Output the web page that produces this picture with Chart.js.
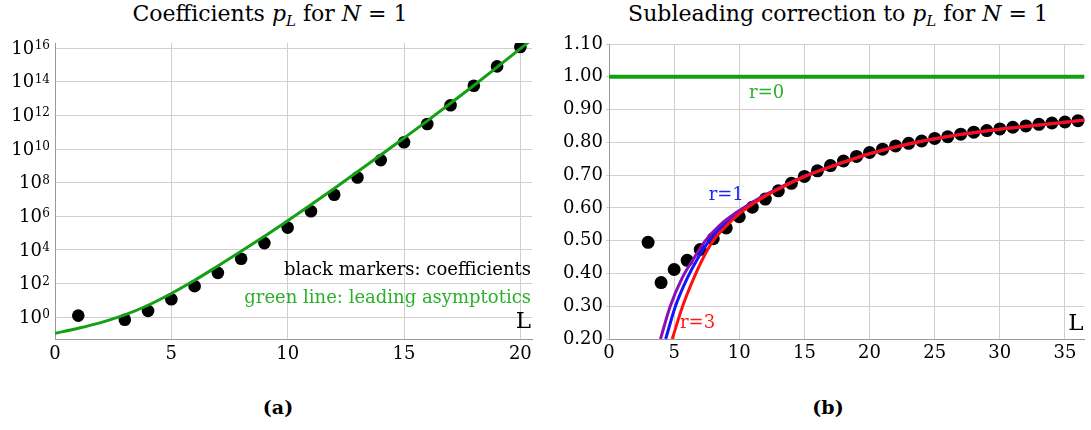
<!DOCTYPE html>
<html>
<head>
<meta charset="utf-8">
<script src="https://cdn.jsdelivr.net/npm/chart.js@4.4.0/dist/chart.umd.min.js"></script>
<style>
  body { margin: 0; width: 1091px; height: 430px; overflow: hidden; background: #fff; position: relative; font-family: "DejaVu Serif", serif; color: #000; }
  .title { position: absolute; top: 1px; font-size: 22px; white-space: nowrap; transform: translateX(-50%); }
  .title sub { font-size: 15px; vertical-align: -5px; line-height: 0; }
  .cap { position: absolute; top: 396px; font-size: 19px; font-weight: bold; transform: translateX(-50%); }
  canvas { position: absolute; top: 0; }
</style>
</head>
<body>
<div class="title" style="left:270px">Coefficients <i>p</i><sub><i>L</i></sub> for <i>N</i> = 1</div>
<div class="title" style="left:838px">Subleading correction to <i>p</i><sub><i>L</i></sub> for <i>N</i> = 1</div>
<div class="cap" style="left:278px">(a)</div>
<div class="cap" style="left:828px">(b)</div>
<canvas id="left" width="545" height="370" style="left:0"></canvas>
<canvas id="right" width="546" height="370" style="left:545px"></canvas>
<script>
// panel (a): coefficients p_L (no value at L=2)
const markL = [1, 3, 4, 5, 6, 7, 8, 9, 10, 11, 12, 13, 14, 15, 16, 17, 18, 19, 20];
const markP = [1.26, 0.72, 2.4, 11.7, 71, 437, 3020, 25700, 2.14e5, 2.0e6, 1.9e7, 2.04e8, 2.19e9,
  2.51e10, 3.09e11, 3.98e12, 5.75e13, 8.13e14, 1.15e16];
// leading asymptotics (green line)
const asymL = [0, 1, 2, 3, 4, 5, 6, 7, 8, 9, 10, 11, 12, 13, 14, 15, 16, 17, 18, 19, 20, 20.5];
const asymP = [0.112, 0.224, 0.50, 1.38, 5.2, 26, 158, 1120, 8300, 64600, 5.5e5, 4.8e6, 4.5e7,
  4.4e8, 4.4e9, 4.5e10, 4.7e11, 5.2e12, 6.0e13, 7.4e14, 9.3e15, 3.3e16];
const logTickExp = [0, 2, 4, 6, 8, 10, 12, 14, 16];

// panel (b): subleading correction
const subL = [3, 4, 5, 6, 7, 8, 9, 10, 11, 12, 13, 14, 15, 16, 17, 18, 19, 20, 21, 22, 23, 24, 25, 26,
  27, 28, 29, 30, 31, 32, 33, 34, 35, 36];
const subV = [0.495, 0.372, 0.412, 0.440, 0.473, 0.506, 0.539, 0.573, 0.602, 0.627, 0.652, 0.675,
  0.696, 0.713, 0.729, 0.743, 0.757, 0.769, 0.779, 0.789, 0.797, 0.804, 0.812, 0.817, 0.825, 0.831,
  0.836, 0.841, 0.846, 0.850, 0.855, 0.859, 0.862, 0.866];
const r0L = [0, 36.5];
const r0V = [1.0, 1.0];
const r1L = [4.35, 5.1, 6.0, 6.8, 7.7, 8.7, 10, 11, 12, 13, 14, 15, 17, 20, 23, 26, 30, 33, 36.5];
const r1V = [0.20, 0.30, 0.385, 0.445, 0.50, 0.545, 0.587, 0.614, 0.638, 0.659, 0.678, 0.696, 0.725,
  0.765, 0.795, 0.818, 0.840, 0.853, 0.868];
const r2L = [3.95, 4.7, 5.6, 6.5, 7.4, 8.5, 10, 11, 12, 13, 14, 15, 17, 20, 23, 26, 30, 33, 36.5];
const r2V = [0.20, 0.30, 0.385, 0.445, 0.50, 0.547, 0.592, 0.617, 0.640, 0.660, 0.679, 0.697, 0.726,
  0.765, 0.795, 0.818, 0.840, 0.853, 0.868];
const r3L = [4.85, 5.65, 6.5, 7.2, 8.0, 9, 10, 11, 12, 13, 14, 15, 17, 20, 23, 26, 30, 33, 36.5];
const r3V = [0.20, 0.30, 0.385, 0.445, 0.50, 0.545, 0.582, 0.611, 0.636, 0.657, 0.677, 0.695, 0.725,
  0.765, 0.795, 0.818, 0.840, 0.853, 0.868];

const FONT = 'DejaVu Serif';
const GRID = '#cfcfcf';
const AXIS = '#9a9a9a';
const GREEN = '#14a014';
Chart.defaults.font.family = FONT;
Chart.defaults.color = '#000';

const pts = (xs, ys) => xs.map((x, i) => ({ x: x, y: ys[i] }));

// panel (a)
new Chart(document.getElementById('left'), {
  type: 'scatter',
  data: {
    datasets: [
      {
        data: pts(asymL, asymP), showLine: true, borderColor: GREEN, borderWidth: 3,
        pointRadius: 0, cubicInterpolationMode: 'monotone', order: 0
      },
      {
        data: pts(markL, markP), backgroundColor: '#000', borderWidth: 0,
        pointRadius: 6.3, order: 1
      }
    ]
  },
  options: {
    responsive: false,
    animation: false,
    layout: { padding: { left: 0, right: 13, top: 43, bottom: 6 } },
    plugins: { legend: { display: false }, tooltip: { enabled: false } },
    scales: {
      x: {
        type: 'linear', min: 0, max: 20.5,
        afterFit(s) { s.height = 25; },
        ticks: { stepSize: 5, includeBounds: false, maxRotation: 0, padding: 5, font: { size: 18 } },
        grid: { color: GRID, drawTicks: false },
        border: { color: AXIS }
      },
      y: {
        type: 'logarithmic', min: Math.pow(10, -1.29), max: Math.pow(10, 16.3),
        afterFit(s) { s.width = 55; },
        afterBuildTicks(s) { s.ticks = logTickExp.map(e => ({ value: Math.pow(10, e) })); },
        ticks: { display: false },
        grid: { color: GRID, drawTicks: false },
        border: { color: AXIS }
      }
    }
  },
  plugins: [{
    id: 'notesA',
    afterDraw(chart) {
      const ctx = chart.ctx, ys = chart.scales.y, a = chart.chartArea;
      ctx.save();
      ctx.fillStyle = '#000';
      logTickExp.forEach(e => {
        const y = ys.getPixelForValue(Math.pow(10, e));
        const exp = String(e);
        ctx.font = '12px "' + FONT + '"';
        ctx.textAlign = 'right';
        ctx.textBaseline = 'alphabetic';
        ctx.fillText(exp, 50, y + 1);
        const w = ctx.measureText(exp).width;
        ctx.font = '18px "' + FONT + '"';
        ctx.textBaseline = 'middle';
        ctx.fillText('10', 50 - w - 0.5, y + 1);
      });
      ctx.textAlign = 'right';
      ctx.textBaseline = 'middle';
      ctx.font = '18px "' + FONT + '"';
      ctx.fillText('black markers: coefficients', a.right - 1, 270);
      ctx.fillStyle = '#2bb02b';
      ctx.fillText('green line: leading asymptotics', a.right - 1, 298);
      ctx.fillStyle = '#000';
      ctx.font = '23px "' + FONT + '"';
      ctx.fillText('L', a.right - 1, 322);
      ctx.restore();
    }
  }]
});

// panel (b)
new Chart(document.getElementById('right'), {
  type: 'scatter',
  data: {
    datasets: [
      { data: pts(r3L, r3V), showLine: true, borderColor: '#ff1010', borderWidth: 3, pointRadius: 0, cubicInterpolationMode: 'monotone', order: 0 },
      { data: pts(r2L, r2V), showLine: true, borderColor: '#8a10b4', borderWidth: 3, pointRadius: 0, cubicInterpolationMode: 'monotone', order: 1 },
      { data: pts(r1L, r1V), showLine: true, borderColor: '#1414ff', borderWidth: 3, pointRadius: 0, cubicInterpolationMode: 'monotone', order: 2 },
      { data: pts(subL, subV), backgroundColor: '#000', borderWidth: 0, pointRadius: 6.5, order: 3 },
      { data: pts(r0L, r0V), showLine: true, borderColor: GREEN, borderWidth: 4, pointRadius: 0, order: 4 }
    ]
  },
  options: {
    responsive: false,
    animation: false,
    layout: { padding: { left: 0, right: 4, top: 44, bottom: 6 } },
    plugins: { legend: { display: false }, tooltip: { enabled: false } },
    scales: {
      x: {
        type: 'linear', min: 0, max: 36.5,
        afterFit(s) { s.height = 25; },
        ticks: { stepSize: 5, includeBounds: false, maxRotation: 0, padding: 4, font: { size: 18 } },
        grid: { color: GRID, drawTicks: false },
        border: { color: AXIS }
      },
      y: {
        type: 'linear', min: 0.2, max: 1.1,
        afterFit(s) { s.width = 64; },
        ticks: { stepSize: 0.1, padding: 3, font: { size: 18 }, callback: v => v.toFixed(2) },
        grid: { color: GRID, tickLength: 3 },
        border: { color: AXIS }
      }
    }
  },
  plugins: [{
    id: 'notesB',
    afterDraw(chart) {
      const ctx = chart.ctx, xs = chart.scales.x, ys = chart.scales.y, a = chart.chartArea;
      ctx.save();
      ctx.textAlign = 'center';
      ctx.textBaseline = 'middle';
      ctx.font = '18px "' + FONT + '"';
      ctx.fillStyle = '#2bb02b';
      ctx.fillText('r=0', xs.getPixelForValue(12.1), ys.getPixelForValue(0.95));
      ctx.fillStyle = '#2020ff';
      ctx.fillText('r=1', xs.getPixelForValue(9.0), ys.getPixelForValue(0.637));
      ctx.fillStyle = '#ff1a1a';
      ctx.fillText('r=3', xs.getPixelForValue(6.8), ys.getPixelForValue(0.248));
      ctx.fillStyle = '#000';
      ctx.textAlign = 'right';
      ctx.font = '23px "' + FONT + '"';
      ctx.fillText('L', a.right - 1, 324);
      ctx.restore();
    }
  }]
});
</script>
</body>
</html>
